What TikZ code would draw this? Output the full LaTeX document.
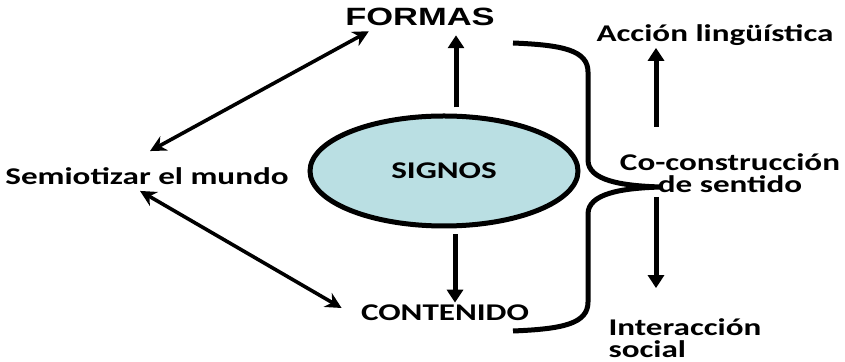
\documentclass[tikz,border=0pt]{standalone}
\usepackage{fontspec}
\setmainfont{Carlito}[FakeStretch=1.38]
\newfontfamily\arialfont{Liberation Sans}[FakeStretch=1.38]
\usetikzlibrary{arrows.meta,shapes.geometric}
\definecolor{signoblue}{RGB}{186,223,227}

\begin{document}
\begin{tikzpicture}[x=0.5pt,y=-0.5pt,
	text_node/.style={font=\bfseries\fontsize{12}{11}\selectfont,inner sep=1pt},
	signo_node/.style={ellipse,draw,line width=2.5pt,fill=signoblue,minimum width=134pt,minimum height=55pt,font=\bfseries\fontsize{12}{14}\selectfont},
	big_arrow/.style={line width=2.5pt,-{Triangle[width=8pt,length=6.5pt]}},
	double_arrow/.style={line width=1.8pt,{Stealth[length=8pt,width=8pt]}-{Stealth[length=8pt,width=8pt]}},
	brace_line/.style={line width=2.5pt}]
		
		\useasboundingbox (0,0) rectangle (845,362);
		
		\node[text_node] (semi) at (147,176) {Semiotizar el mundo};
		\node[text_node,font=\arialfont\bfseries\fontsize{12.5}{14}\selectfont] (formas) at (420,17) {FORMAS};
		\node[signo_node] (signos) at (444,171) {SIGNOS};
		\node[text_node] (contenido) at (445,313) {CONTENIDO};
		\node[text_node] (accion) at (715,35) {Acción lingüística};
		\node[text_node,align=center] (cocons) at (730,173) {Co-construcción\\de sentido};
		\node[text_node,align=left] (interac) at (685,338) {Interacción\\social};
		
		\coordinate (accion_foot) at (656,127);
		\coordinate (interac_head) at (656,197);
		\coordinate (brace_tip) at (662,187);
		
		\draw[big_arrow,shorten >=3.5pt] ([shift={(12,-6)}]signos.north) -- ([shift={(12,0)}]signos.north |- formas.south);
		\draw[big_arrow] ([shift={(11,6)}]signos.south) -- ([shift={(11,0)}]signos.south |- contenido.north);
		\draw[double_arrow] ([shift={(3,-14)}]semi.north) -- ([shift={(26,3)}]formas.south west);
		\draw[double_arrow] ([shift={(-7,4)}]semi.south) -- ([shift={(-17,-5)}]contenido.west);
		\draw[big_arrow] (accion_foot) -- (accion_foot |- accion.south);
		\draw[big_arrow,shorten >=14pt] (interac_head) -- (interac_head |- interac.north);
		
		\draw[brace_line] (513,43) .. controls (562,45) and (588,50) .. (588,72) -- (588,160)
			.. controls (588,180) and (620,186) .. (brace_tip)
			.. controls (620,188) and (588,194) .. (588,214) -- (588,302)
			.. controls (588,324) and (562,329) .. (513,331);
\end{tikzpicture}
\end{document}
